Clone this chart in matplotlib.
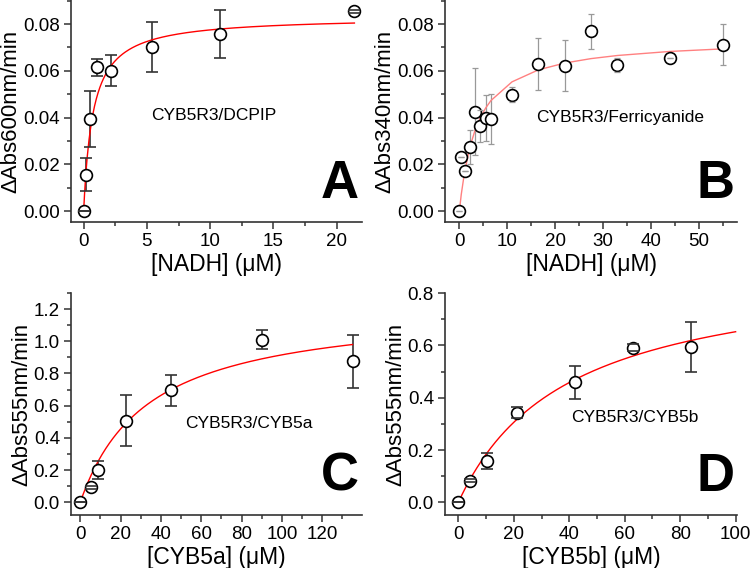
import numpy as np
import matplotlib
matplotlib.use("Agg")
import matplotlib.pyplot as plt
from matplotlib.ticker import MultipleLocator

plt.rcParams['font.family'] = ['Liberation Sans', 'DejaVu Sans']

# panel A: CYB5R3/DCPIP
a_x = [0, 0.2, 0.5, 1.05, 2.2, 5.4, 10.8, 21.4]
a_y = [0.0, 0.0155, 0.0394, 0.0615, 0.0600, 0.0702, 0.0757, 0.0854]
a_err = [0.0, 0.007, 0.012, 0.0036, 0.0066, 0.0107, 0.0102, 0.0007]
a_vmax, a_km = 0.0832, 0.734

# panel B: CYB5R3/Ferricyanide
b_x = [0, 0.4, 1.1, 2.2, 3.3, 4.4, 5.5, 6.6, 11, 16.5, 22, 27.5, 33, 44, 55]
b_y = [0.0, 0.0232, 0.0171, 0.0275, 0.0424, 0.0364, 0.0399, 0.0394, 0.0498,
       0.0629, 0.0622, 0.0770, 0.0625, 0.0655, 0.0712]
b_err = [0, 0, 0, 0.0073, 0.0186, 0.0068, 0.0099, 0.0108, 0.0033,
         0.011, 0.0108, 0.0075, 0.003, 0.0, 0.0087]
b_vmax, b_km = 0.0741, 3.745

# panel C: CYB5R3/CYB5a
c_x = [0, 5.5, 9, 22.5, 45, 90, 135]
c_y = [0.0, 0.093, 0.201, 0.506, 0.696, 1.011, 0.875]
c_err = [0.0, 0.01, 0.055, 0.158, 0.097, 0.06, 0.167]
c_vmax, c_km = 1.225, 33.75

# panel D: CYB5R3/CYB5b
d_x = [0, 4.2, 10.5, 21, 42, 63, 84]
d_y = [0.0, 0.083, 0.158, 0.342, 0.460, 0.591, 0.594]
d_err = [0.0, 0.005, 0.03, 0.021, 0.063, 0.013, 0.094]
d_vmax, d_km = 0.909, 39.4


def mm(x, vmax, km):
    x = np.asarray(x, dtype=float)
    return vmax * x / (km + x)


def panel(ax, x, y, err, fit_x, fit_y, fit_color, err_color, cap, elw,
          xlim, ylim, xmaj, xmin, ymaj, ymin, yfmt, xlabel, ylabel,
          name, name_xy, letter):
    ax.plot(fit_x, fit_y, color=fit_color, lw=1.0, zorder=2)
    eb = ax.errorbar(x, y, yerr=err, fmt='none', ecolor=err_color,
                     elinewidth=elw, capsize=cap, capthick=elw, zorder=1)
    for c in eb[1]:
        c.set_zorder(4)
    ax.plot(x, y, 'o', ms=8.5, mfc='white', mec='black', mew=1.2, zorder=3)
    ax.set_xlim(*xlim)
    ax.set_ylim(*ylim)
    ax.xaxis.set_major_locator(MultipleLocator(xmaj))
    ax.xaxis.set_minor_locator(MultipleLocator(xmin))
    ax.yaxis.set_major_locator(MultipleLocator(ymaj))
    ax.yaxis.set_minor_locator(MultipleLocator(ymin))
    ax.yaxis.set_major_formatter(yfmt)
    for s in ['top', 'right']:
        ax.spines[s].set_visible(False)
    for s in ['left', 'bottom']:
        ax.spines[s].set_linewidth(1.2)
        ax.spines[s].set_color('#333333')
    ax.tick_params(which='major', length=5, width=1.1, labelsize=13.5,
                   color='#333333', pad=3)
    ax.tick_params(which='minor', length=3, width=1.1, color='#333333')
    ax.set_xlabel(xlabel, fontsize=16.5, labelpad=2)
    ax.set_ylabel(ylabel, fontsize=16, labelpad=1)
    ax.text(*name_xy, name, transform=ax.transAxes, fontsize=12.5,
            ha='center', va='center')
    ax.text(0.99, 0.06, letter, transform=ax.transAxes, fontsize=38,
            fontweight='bold', ha='right', va='bottom')


fig = plt.figure(figsize=(7.5, 5.68), dpi=100)
axA = fig.add_axes([71 / 750, 346 / 568, 291 / 750, 222 / 568])
axB = fig.add_axes([445 / 750, 346 / 568, 292 / 750, 222 / 568])
axC = fig.add_axes([71 / 750, 53 / 568, 291 / 750, 222 / 568])
axD = fig.add_axes([445 / 750, 53 / 568, 292 / 750, 222 / 568])

xa = np.linspace(0, a_x[-1], 300)
panel(axA, a_x, a_y, a_err, xa, mm(xa, a_vmax, a_km), 'red', '#333333', 4, 1.2,
      (-1, 22), (-0.0047, 0.0903), 5, 2.5, 0.02, 0.01, '{x:.2f}',
      '[NADH] (\u03bcM)', '\u0394Abs600nm/min', 'CYB5R3/DCPIP',
      (0.49, 0.48), 'A')

panel(axB, b_x, b_y, b_err, b_x, mm(b_x, b_vmax, b_km), '#ff8080', '#999999', 2.5, 0.9,
      (-3, 58), (-0.0047, 0.0903), 10, 5, 0.02, 0.01, '{x:.2f}',
      '[NADH] (\u03bcM)', '\u0394Abs340nm/min', 'CYB5R3/Ferricyanide',
      (0.60, 0.47), 'B')

xc = np.linspace(0, c_x[-1], 300)
panel(axC, c_x, c_y, c_err, xc, mm(xc, c_vmax, c_km), 'red', '#333333', 4, 1.2,
      (-4.6, 139.7), (-0.079, 1.30), 20, 10, 0.2, 0.1, '{x:.1f}',
      '[CYB5a] (\u03bcM)', '\u0394Abs555nm/min', 'CYB5R3/CYB5a',
      (0.61, 0.41), 'C')

xd = np.linspace(0, 100, 300)
panel(axD, d_x, d_y, d_err, xd, mm(xd, d_vmax, d_km), 'red', '#333333', 4, 1.2,
      (-4.8, 100.5), (-0.048, 0.80), 20, 10, 0.2, 0.1, '{x:.1f}',
      '[CYB5b] (\u03bcM)', '\u0394Abs555nm/min', 'CYB5R3/CYB5b',
      (0.65, 0.44), 'D')

fig.savefig('out.png', dpi=100)
